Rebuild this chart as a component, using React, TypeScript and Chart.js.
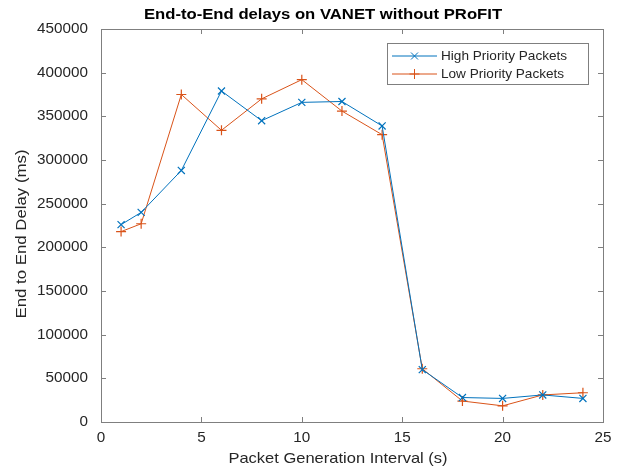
import { useEffect, useRef } from 'react';
import { Chart, registerables } from 'chart.js';

Chart.register(...registerables);

const titleText = 'End-to-End delays on VANET without PRoFIT';
const xTitle = 'Packet Generation Interval (s)';
const yTitle = 'End to End Delay (ms)';
const xValues = [1, 2, 4, 6, 8, 10, 12, 14, 16, 18, 20, 22, 24];
const highLabel = 'High Priority Packets';
const lowLabel = 'Low Priority Packets';
const highPriority = [226000, 240000, 288000, 379000, 345000, 366000, 367000, 339000, 60000, 28000, 27000, 31000, 27000];
const lowPriority = [218000, 227000, 375000, 334000, 370000, 392000, 356000, 329000, 61000, 24000, 18500, 31000, 33500];
const xTicks = [0, 5, 10, 15, 20, 25];
const yTicks = [0, 50000, 100000, 150000, 200000, 250000, 300000, 350000, 400000, 450000];

const BLUE = '#0072BD';
const ORANGE = '#D95319';
const AXIS = '#7f7f7f';
const TEXT = '#262626';
const FONT = "'Liberation Sans', Arial, sans-serif";

function drawText(ctx: CanvasRenderingContext2D, text: string, x: number, y: number, size: number, opts: { bold?: boolean; align?: CanvasTextAlign; sx?: number; rot?: number; color?: string } = {}) {
  ctx.save();
  ctx.translate(x, y);
  if (opts.rot) ctx.rotate(opts.rot);
  ctx.scale(opts.sx || 1, 1);
  ctx.font = `${opts.bold ? 'bold ' : ''}${size}px ${FONT}`;
  ctx.fillStyle = opts.color || TEXT;
  ctx.textAlign = opts.align || 'center';
  ctx.textBaseline = 'middle';
  ctx.fillText(text, 0, 0);
  ctx.restore();
}

const framePlugin = {
  id: 'frame',
  afterDraw(chart: any) {
    const { ctx, chartArea: a, scales } = chart;
    const xs = scales.x;
    const ys = scales.y;
    ctx.save();
    ctx.strokeStyle = AXIS;
    ctx.lineWidth = 1;
    ctx.strokeRect(Math.round(a.left) + 0.5, Math.round(a.top) + 0.5, Math.round(a.right - a.left), Math.round(a.bottom - a.top));
    const tl = 5;
    ctx.beginPath();
    xTicks.forEach((v) => {
      const px = Math.round(xs.getPixelForValue(v)) + 0.5;
      ctx.moveTo(px, a.bottom);
      ctx.lineTo(px, a.bottom - tl);
      ctx.moveTo(px, a.top);
      ctx.lineTo(px, a.top + tl);
    });
    yTicks.forEach((v) => {
      const py = Math.round(ys.getPixelForValue(v)) + 0.5;
      ctx.moveTo(a.left, py);
      ctx.lineTo(a.left + tl, py);
      ctx.moveTo(a.right, py);
      ctx.lineTo(a.right - tl, py);
    });
    ctx.stroke();

    // tick labels
    xTicks.forEach((v) => {
      drawText(ctx, String(v), xs.getPixelForValue(v), a.bottom + 16, 14, { sx: 1.09 });
    });
    yTicks.forEach((v) => {
      drawText(ctx, String(v), a.left - 13, ys.getPixelForValue(v), 14, { sx: 1.09, align: 'right' });
    });

    // title
    drawText(ctx, titleText, 323, 15, 14.5, { bold: true, sx: 1.15, color: '#000' });

    // axis titles
    drawText(ctx, xTitle, 338, 459, 15, { sx: 1.1 });
    drawText(ctx, yTitle, 22, 234, 15, { sx: 1.12, rot: -Math.PI / 2 });

    // legend
    const lx = 387, ly = 43, lw = 201, lh = 41;
    ctx.fillStyle = '#fff';
    ctx.fillRect(lx, ly, lw, lh);
    ctx.strokeStyle = AXIS;
    ctx.strokeRect(lx + 0.5, ly + 0.5, lw, lh);
    const rows = [
      { label: highLabel, color: BLUE, y: 56, rot: true },
      { label: lowLabel, color: ORANGE, y: 74, rot: false },
    ];
    rows.forEach((r) => {
      ctx.strokeStyle = r.color;
      ctx.lineWidth = 1;
      ctx.beginPath();
      ctx.moveTo(392, r.y);
      ctx.lineTo(437, r.y);
      ctx.stroke();
      const cx = 414.5;
      ctx.beginPath();
      if (r.rot) {
        const d = 3.5;
        ctx.moveTo(cx - d, r.y - d);
        ctx.lineTo(cx + d, r.y + d);
        ctx.moveTo(cx - d, r.y + d);
        ctx.lineTo(cx + d, r.y - d);
      } else {
        const d = 5;
        ctx.moveTo(cx - d, r.y);
        ctx.lineTo(cx + d, r.y);
        ctx.moveTo(cx, r.y - d);
        ctx.lineTo(cx, r.y + d);
      }
      ctx.stroke();
      drawText(ctx, r.label, 441, r.y, 13.6, { align: 'left' });
    });
    ctx.restore();
  },
};

export default function App() {
  const ref = useRef<HTMLCanvasElement | null>(null);
  useEffect(() => {
    if (!ref.current) return;
    const chart = new Chart(ref.current, {
      type: 'line',
      data: {
        datasets: [
          {
            label: highLabel,
            data: xValues.map((x, i) => ({ x, y: highPriority[i] })),
            borderColor: BLUE,
            backgroundColor: BLUE,
            borderWidth: 1,
            pointStyle: 'crossRot',
            pointRadius: 5,
            pointBorderWidth: 1.2,
            pointBorderColor: BLUE,
            tension: 0,
          },
          {
            label: lowLabel,
            data: xValues.map((x, i) => ({ x, y: lowPriority[i] })),
            borderColor: ORANGE,
            backgroundColor: ORANGE,
            borderWidth: 1,
            pointStyle: 'cross',
            pointRadius: 5,
            pointBorderWidth: 1.2,
            pointBorderColor: ORANGE,
            tension: 0,
          },
        ],
      },
      options: {
        animation: false,
        responsive: false,
        maintainAspectRatio: false,
        layout: { padding: { top: 29, right: 20, left: 0, bottom: 0 } },
        plugins: {
          legend: { display: false },
          title: { display: false },
          tooltip: { enabled: false },
        },
        scales: {
          x: {
            type: 'linear',
            min: 0,
            max: 25,
            afterFit: (s: any) => { s.height = 50; },
            afterBuildTicks: (s: any) => { s.ticks = xTicks.map((v) => ({ value: v })); },
            grid: { display: false, drawTicks: false },
            border: { display: false },
            ticks: { display: false },
          },
          y: {
            type: 'linear',
            min: 0,
            max: 450000,
            afterFit: (s: any) => { s.width = 101; },
            afterBuildTicks: (s: any) => { s.ticks = yTicks.map((v) => ({ value: v })); },
            grid: { display: false, drawTicks: false },
            border: { display: false },
            ticks: { display: false },
          },
        },
      },
      plugins: [framePlugin],
    });
    return () => chart.destroy();
  }, []);
  return (
    <div style={{ position: 'absolute', left: 0, top: 0, width: 623, height: 472, background: '#fff' }}>
      <canvas ref={ref} width={623} height={472} style={{ width: 623, height: 472 }} />
    </div>
  );
}
